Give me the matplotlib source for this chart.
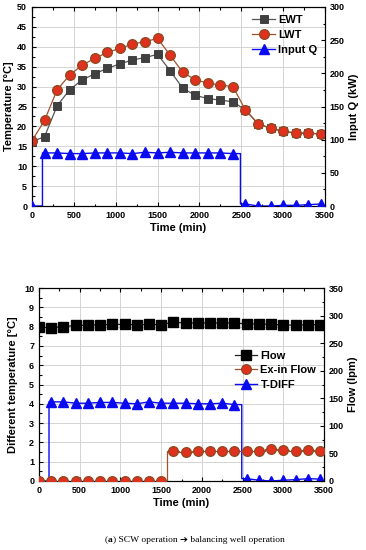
import numpy as np
import matplotlib
matplotlib.use("Agg")
import matplotlib.pyplot as plt
from matplotlib.ticker import MultipleLocator

plt.rcParams['font.family'] = ['Liberation Sans', 'DejaVu Sans']
plt.rcParams['font.weight'] = 'bold'

# ---------------- data ----------------
time = [0, 150, 300, 450, 600, 750, 900, 1050, 1200, 1350, 1500, 1650,
        1800, 1950, 2100, 2250, 2400, 2550, 2700, 2850, 3000, 3150, 3300, 3450]

ewt = [16.2, 17.4, 25.2, 29.2, 31.7, 33.2, 34.6, 35.7, 36.7, 37.3, 38.1, 34.0,
       29.6, 27.8, 27.0, 26.6, 26.2, 24.1, 20.7, 19.5, 18.8, 18.3, 18.3, 18.1]
lwt = [16.4, 21.5, 29.2, 32.9, 35.4, 37.1, 38.6, 39.6, 40.7, 41.3, 42.1, 37.9,
       33.6, 31.7, 30.9, 30.4, 30.0, 24.1, 20.7, 19.5, 18.8, 18.3, 18.3, 18.1]
input_q = [0, 80, 80, 79, 79, 80, 80, 80, 79, 81, 80, 81,
           80, 80, 80, 80, 79, 3, 0, 0, 1, 1, 2, 3]
q_on_time, q_off_time = 125, 2490

flow = [279, 278, 280, 282, 282.5, 283.5, 284, 284, 283.5, 284, 283.5, 288,
        286.5, 286.5, 286.5, 286.5, 286.5, 285, 284.5, 284, 283, 282.5, 283.5, 283.5]
exin_flow = [0, 0, 0, 0, 0, 0, 0, 0, 0, 0, 0, 54.6,
             52, 55.3, 54.6, 55.3, 53.5, 54, 55.3, 58.4, 56, 55.3, 56, 55.3]
t_diff = [0, 4.1, 4.1, 4.03, 4.03, 4.07, 4.07, 4.03, 4.0, 4.1, 4.03, 4.03,
          4.03, 4.0, 4.0, 4.03, 3.96, 0.12, 0.04, 0.0, 0.04, 0.07, 0.12, 0.1]
td_on_time, td_off_time = 123, 2490

caption_label = "a"
caption_text = " SCW operation \u2794 balancing well operation"

# --------------- helpers ---------------
def step_line(t, v, t_on, t_off):
    xs, ys = [t[0], t_on], [v[0], v[0]]
    on = [i for i, x in enumerate(t) if t_on < x < t_off]
    xs += [t_on] + [t[i] for i in on] + [t_off, t_off]
    ys += [v[on[0]]] + [v[i] for i in on] + [v[on[-1]], 0]
    off = [i for i, x in enumerate(t) if x > t_off]
    xs += [t[i] for i in off]
    ys += [v[i] for i in off]
    ys[-len(off) - 1] = v[off[0]]
    return xs, ys

BLUE = '#0a0af0'
RED = '#e0301e'
BROWN = '#8b4a22'
GRAY = '#404040'
tick_fs = 6.5
lab_fs = 8

fig = plt.figure(figsize=(3.66, 5.5), dpi=100)

def style(ax, ax2):
    for a in (ax, ax2):
        a.tick_params(which='both', direction='in', labelsize=tick_fs, width=0.8)
        a.tick_params(which='major', length=3)
        a.tick_params(which='minor', length=1.8)
        for s in a.spines.values():
            s.set_linewidth(0.8)
    ax.tick_params(which='both', top=True)
    ax.xaxis.set_major_locator(MultipleLocator(500))
    ax.xaxis.set_minor_locator(MultipleLocator(250))
    ax.grid(True, which='major', color='#d4d4d4', linewidth=0.7)
    ax.set_axisbelow(True)
    ax.set_xlim(0, 3500)
    ax.set_xlabel('Time (min)', fontsize=lab_fs, fontweight='bold', labelpad=2)

# ---------------- top ----------------
ax = fig.add_axes([32/366, 1-206/550, 293/366, 199/550])
ax2 = ax.twinx()
style(ax, ax2)
ax.set_ylim(0, 50)
ax.yaxis.set_major_locator(MultipleLocator(5))
ax.yaxis.set_minor_locator(MultipleLocator(2.5))
ax2.set_ylim(0, 300)
ax2.yaxis.set_major_locator(MultipleLocator(50))
ax2.yaxis.set_minor_locator(MultipleLocator(25))

h1, = ax.plot(time, ewt, '-', color='#555555', lw=0.9, marker='s', ms=6.3,
              mfc=GRAY, mec='#333333', mew=0.6, label='EWT', zorder=3)
h2, = ax.plot(time, lwt, '-', color='#a0522d', lw=0.9, marker='o', ms=7,
              mfc=RED, mec=BROWN, mew=0.9, label='LWT', zorder=4)
qx, qy = step_line(time, input_q, q_on_time, q_off_time)
ax2.plot(qx, qy, '-', color=BLUE, lw=1.0, zorder=3)
ax2.plot(time, input_q, ls='none', marker='^', ms=7, mfc=BLUE, mec=BLUE, zorder=4)
h3, = ax2.plot([], [], '-', color=BLUE, lw=1.0, marker='^', ms=7, mfc=BLUE,
               mec=BLUE, label='Input Q')
ax.set_ylabel('Temperature [\u00b0C]', fontsize=lab_fs, fontweight='bold', labelpad=2)
ax2.set_ylabel('Input Q (kW)', fontsize=lab_fs, fontweight='bold', labelpad=3)
ax2.legend(handles=[h1, h2, h3], loc='upper right', frameon=False,
           handlelength=2.0, handletextpad=0.3,
           labelspacing=0.45, borderaxespad=0.3,
           prop={'weight': 'bold', 'size': 8})

# ---------------- bottom ----------------
bx = fig.add_axes([39/366, 1-481/550, 285/366, 193/550])
bx2 = bx.twinx()
style(bx, bx2)
bx.set_ylim(0, 10)
bx.yaxis.set_major_locator(MultipleLocator(1))
bx.yaxis.set_minor_locator(MultipleLocator(0.5))
bx2.set_ylim(0, 350)
bx2.yaxis.set_major_locator(MultipleLocator(50))
bx2.yaxis.set_minor_locator(MultipleLocator(25))

tx, ty = step_line(time, t_diff, td_on_time, td_off_time)
bx.plot(tx, ty, '-', color=BLUE, lw=1.0, zorder=3)
bx.plot(time, t_diff, ls='none', marker='^', ms=7, mfc=BLUE, mec=BLUE, zorder=4)
g1, = bx2.plot(time, flow, '-', color='#222222', lw=0.9, marker='s', ms=6.5,
               mfc='black', mec='black', label='Flow', zorder=3)
g2, = bx2.plot(time, exin_flow, '-', color='#a0522d', lw=0.9, marker='o', ms=7,
               mfc=RED, mec=BROWN, mew=0.9, drawstyle='steps-mid', label='Ex-in Flow',
               zorder=4)
g3l, = bx2.plot([], [], '-', color=BLUE, lw=1.0, marker='^', ms=7, mfc=BLUE,
                mec=BLUE, label='T-DIFF')
bx.set_ylabel('Different temperature [\u00b0C]', fontsize=lab_fs, fontweight='bold', labelpad=4)
bx2.set_ylabel('Flow (lpm)', fontsize=lab_fs, fontweight='bold', labelpad=3)
bx2.legend(handles=[g1, g2, g3l], loc='upper right', frameon=False,
           bbox_to_anchor=(1.0, 0.715), handlelength=2.0, handletextpad=0.3,
           labelspacing=0.4, borderaxespad=0.3,
           prop={'weight': 'bold', 'size': 8})

# caption: "(a) SCW operation -> balancing well operation", with bold "a"
cap_fs = 6.8
cap_family = ['Liberation Serif', 'DejaVu Sans']
t0 = fig.text(105/366, 1-540/550, "(", ha='left', va='center', fontsize=cap_fs,
              fontweight='normal', family=cap_family)
fig.canvas.draw()
r = fig.canvas.get_renderer()
bb = t0.get_window_extent(r)
t1 = fig.text(bb.x1/366, 1-540/550, caption_label, ha='left', va='center',
              fontsize=cap_fs, fontweight='bold', family=cap_family)
bb = t1.get_window_extent(r)
t2 = fig.text(bb.x1/366, 1-540/550, ")" + caption_text, ha='left', va='center',
              fontsize=cap_fs, fontweight='normal', family=cap_family)

fig.savefig('out.png', dpi=100)
